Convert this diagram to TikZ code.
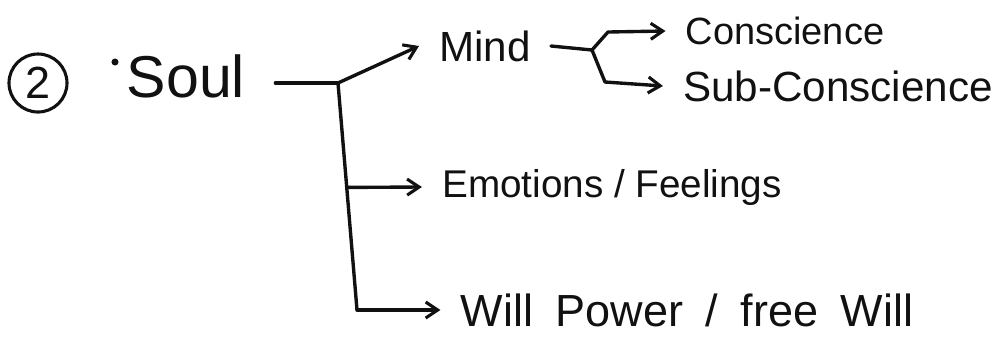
\documentclass[tikz,border=0pt]{standalone}
\usepackage{fontspec}
\setmainfont{Liberation Sans}
\usepackage{xcolor}
\usepackage{tikz}
\usetikzlibrary{arrows.meta, calc}
\definecolor{inkBlack}{HTML}{111111}

\begin{document}
\begin{tikzpicture}[
    x=0.025cm, y=-0.025cm,
    term/.style={inner xsep=0.5cm, inner ysep=1pt, text=inkBlack, font=\fontsize{28}{32}\selectfont},
    num/.style={circle, draw=inkBlack, line width=2.2pt, minimum size=1.45cm, inner sep=0pt,
                text=inkBlack, font=\fontsize{32}{36}\selectfont},
    link/.style={draw=inkBlack, line width=2.4pt, line cap=round, line join=round},
    arrow/.style={link, -{Straight Barb[length=3mm, width=4mm, line width=2.2pt]}},
]
\useasboundingbox (0,0) rectangle (1007,345);

% Root
\node[num] (num) at (38,83) {2};
\fill[inkBlack] (115,62) circle (2.5pt);
\node[term, font=\fontsize{42}{46}\selectfont] (soul) at (186,76) {Soul};
\coordinate (sj) at (338,83);
\coordinate (wb) at (357,310);

% Mind branch
\node[term, font=\fontsize{30}{34}\selectfont] (mind) at (485,46) {Mind};
\coordinate (mj) at (592,50);
\node[term, font=\fontsize{27}{30}\selectfont] (con) at (785,31) {Conscience};
\node[term, font=\fontsize{30}{34}\selectfont] (sub) at (838,86) {Sub-Conscience};

% Lower branches
\node[term, font=\fontsize{27.5}{31}\selectfont] (emo) at (612,187) {Emotions / Feelings};
\node[term, font=\fontsize{32}{36}\selectfont] (will) at (687,310) {\spaceskip=0.5em\relax Will Power / free Will};

% Connectors
\draw[link, shorten <=0.25cm] (soul.east |- sj) -- (sj);
\draw[arrow] (sj) -- (mind.west);
\draw[link] (sj) -- (wb);
\draw[arrow] ($(sj)!0.46!(wb)$) -- (emo.west);
\draw[arrow] (wb) -- (will.west);
\draw[link] (mind.east) -- (mj);
\draw[arrow] (mj) -- ++(16,-18) -- (con.west);
\draw[arrow] (mj) -- ++(13,32) -- (sub.west);
\end{tikzpicture}
\end{document}
